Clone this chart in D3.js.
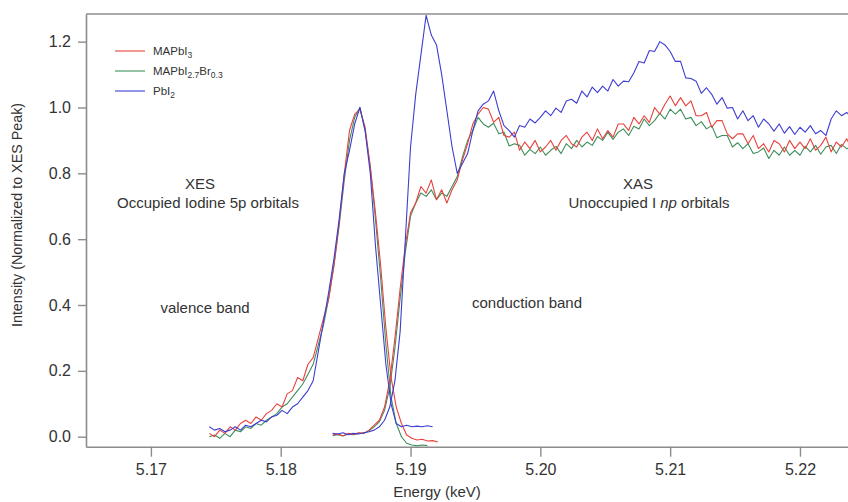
<!DOCTYPE html>
<html>
<head>
<meta charset="utf-8">
<script src="https://cdn.jsdelivr.net/npm/d3@7"></script>
<style>
  body { margin: 0; background: #fff; }
  svg { display: block; font-family: "Liberation Sans", Arial, sans-serif; }
</style>
</head>
<body>
<div id="chart"></div>
<script>
// XES (emission) energies, keV
const xesEnergy = [
  5.1745, 5.1749, 5.1753, 5.1757, 5.1761, 5.1765, 5.1769, 5.1773, 5.1777, 5.1781,
  5.1785, 5.1789, 5.1793, 5.1797, 5.1801, 5.1805, 5.1809, 5.1813, 5.1817, 5.1821,
  5.1825, 5.1829, 5.1833, 5.1837, 5.1841, 5.1845, 5.1849, 5.1853, 5.1857, 5.1861,
  5.1865, 5.1869, 5.1873, 5.1877, 5.1881, 5.1885, 5.1889, 5.1893, 5.1897, 5.1901,
  5.1905, 5.1909, 5.1913, 5.1917, 5.1921
];

// XAS (absorption) energies, keV
const xasEnergy = [
  5.1840, 5.1844, 5.1848, 5.1852, 5.1856, 5.1860, 5.1864, 5.1868, 5.1872, 5.1876,
  5.1880, 5.1884, 5.1888, 5.1892, 5.1896, 5.1900, 5.1904, 5.1908, 5.1912, 5.1916,
  5.1920, 5.1924, 5.1928, 5.1932, 5.1936, 5.1940, 5.1944, 5.1948, 5.1952, 5.1956,
  5.1960, 5.1964, 5.1968, 5.1972, 5.1976, 5.1980, 5.1984, 5.1988, 5.1992, 5.1996,
  5.2000, 5.2004, 5.2008, 5.2012, 5.2016, 5.2020, 5.2024, 5.2028, 5.2032, 5.2036,
  5.2040, 5.2044, 5.2048, 5.2052, 5.2056, 5.2060, 5.2064, 5.2068, 5.2072, 5.2076,
  5.2080, 5.2084, 5.2088, 5.2092, 5.2096, 5.2100, 5.2104, 5.2108, 5.2112, 5.2116,
  5.2120, 5.2124, 5.2128, 5.2132, 5.2136, 5.2140, 5.2144, 5.2148, 5.2152, 5.2156,
  5.2160, 5.2164, 5.2168, 5.2172, 5.2176, 5.2180, 5.2184, 5.2188, 5.2192, 5.2196,
  5.2200, 5.2204, 5.2208, 5.2212, 5.2216, 5.2220, 5.2224, 5.2228, 5.2232, 5.2236,
  5.2240
];

// XES intensities (normalized)
const xesMAPbI3 = [
  0.01, 0.0, 0.02, 0.01, 0.03, 0.02, 0.04, 0.05, 0.04, 0.06,
  0.05, 0.07, 0.08, 0.10, 0.09, 0.13, 0.14, 0.18, 0.17, 0.22,
  0.24, 0.30, 0.36, 0.42, 0.52, 0.65, 0.80, 0.93, 0.98, 0.995,
  0.94, 0.82, 0.68, 0.52, 0.33, 0.18, 0.09, 0.04, 0.005, -0.005,
  -0.01, -0.008, -0.013, -0.012, -0.016
];
const xesMAPbI27Br03 = [
  0.0, 0.005, -0.005, 0.01, 0.0, 0.02, 0.015, 0.03, 0.025, 0.04,
  0.035, 0.05, 0.06, 0.07, 0.09, 0.10, 0.12, 0.14, 0.16, 0.19,
  0.22, 0.28, 0.34, 0.42, 0.52, 0.64, 0.78, 0.90, 0.97, 1.0,
  0.93, 0.82, 0.66, 0.48, 0.28, 0.12, 0.04, 0.0, -0.02, -0.025,
  -0.028, -0.025, -0.027
];
const xesPbI2 = [
  0.03, 0.02, 0.025, 0.015, 0.02, 0.03, 0.02, 0.035, 0.03, 0.04,
  0.05, 0.045, 0.06, 0.065, 0.08, 0.07, 0.09, 0.10, 0.12, 0.14,
  0.17, 0.26, 0.35, 0.44, 0.54, 0.66, 0.80, 0.87, 0.95, 1.0,
  0.93, 0.80, 0.58, 0.40, 0.22, 0.10, 0.04, 0.03, 0.035, 0.03,
  0.032, 0.03, 0.033, 0.03
];

// XAS intensities (normalized to XES peak)
const xasMAPbI3 = [
  0.005, 0.008, 0.003, 0.01, 0.007, 0.012, 0.01, 0.02, 0.035, 0.05,
  0.09, 0.17, 0.30, 0.45, 0.58, 0.68, 0.71, 0.76, 0.74, 0.78,
  0.72, 0.75, 0.71, 0.75, 0.78, 0.84, 0.89, 0.95, 0.98, 1.0,
  0.995, 0.955, 0.97, 0.915, 0.91, 0.925, 0.87, 0.895, 0.875, 0.90,
  0.865, 0.88, 0.90, 0.87, 0.90, 0.915, 0.89, 0.88, 0.91, 0.925,
  0.90, 0.935, 0.905, 0.93, 0.91, 0.95, 0.95, 0.93, 0.97, 0.95,
  0.975, 0.955, 1.0, 0.98, 1.01, 1.035, 1.005, 1.03, 1.005, 1.02,
  0.975, 0.975, 0.985, 0.94, 0.96, 0.96, 0.92, 0.905, 0.92, 0.92,
  0.89, 0.915, 0.875, 0.89, 0.865, 0.90, 0.89, 0.865, 0.90, 0.875,
  0.895, 0.875, 0.905, 0.87, 0.885, 0.91, 0.865, 0.895, 0.88, 0.905,
  0.875
];
const xasMAPbI27Br03 = [
  0.003, 0.006, 0.002, 0.008, 0.006, 0.01, 0.01, 0.018, 0.03, 0.045,
  0.08, 0.15, 0.27, 0.42, 0.56, 0.67, 0.71, 0.74, 0.73, 0.75,
  0.72, 0.74, 0.73, 0.76, 0.79, 0.85, 0.90, 0.93, 0.97, 0.95,
  0.94, 0.952, 0.92, 0.925, 0.883, 0.89, 0.885, 0.855, 0.873, 0.86,
  0.88, 0.855, 0.87, 0.882, 0.86, 0.89, 0.875, 0.90, 0.88, 0.895,
  0.885, 0.912, 0.90, 0.925, 0.903, 0.925, 0.935, 0.915, 0.943, 0.935,
  0.965, 0.945, 0.96, 0.982, 0.965, 0.995, 0.98, 0.995, 0.965, 0.97,
  0.945, 0.957, 0.935, 0.945, 0.908, 0.915, 0.915, 0.88, 0.893, 0.875,
  0.89, 0.86, 0.865, 0.877, 0.845, 0.87, 0.855, 0.88, 0.855, 0.87,
  0.855, 0.882, 0.865, 0.885, 0.858, 0.88, 0.885, 0.86, 0.888, 0.875,
  0.88
];
const xasPbI2 = [
  0.01, 0.008, 0.012, 0.006, 0.01, 0.008, 0.012, 0.015, 0.02, 0.03,
  0.05, 0.09, 0.17, 0.32, 0.60, 0.88, 1.04, 1.16, 1.28, 1.22,
  1.19, 1.10, 0.99, 0.88, 0.80, 0.83, 0.86, 0.93, 0.99, 1.01,
  1.02, 1.05, 0.99, 0.945, 0.93, 0.91, 0.945, 0.94, 0.965, 0.953,
  0.97, 0.99, 0.975, 0.998, 0.985, 1.02, 1.025, 1.013, 1.05, 1.032,
  1.062, 1.045, 1.065, 1.05, 1.085, 1.065, 1.08, 1.078, 1.105, 1.14,
  1.135, 1.173, 1.17, 1.2, 1.19, 1.17, 1.14, 1.14, 1.09, 1.088,
  1.08, 1.043, 1.06, 1.04, 1.01, 1.03, 0.998, 1.0, 0.965, 0.99,
  0.96, 0.975, 0.94, 0.965, 0.95, 0.928, 0.95, 0.922, 0.942, 0.918,
  0.94, 0.925, 0.945, 0.92, 0.93, 0.915, 0.965, 0.99, 0.975, 0.985,
  0.97
];

const sampleNames = ["MAPbI3", "MAPbI2.7Br0.3", "PbI2"];
const sampleColors = ["#e8423d", "#3f8f5c", "#3d3dd2"];
const xTicks = [5.17, 5.18, 5.19, 5.20, 5.21, 5.22];
const yTicks = [0.0, 0.2, 0.4, 0.6, 0.8, 1.0, 1.2];

const width = 848, height = 502;
const margin = { top: 14, right: 0, bottom: 55.3, left: 86 };
const innerW = width - margin.left - margin.right;
const innerH = height - margin.top - margin.bottom;

const svg = d3.select("#chart").append("svg")
  .attr("width", width)
  .attr("height", height);

const g = svg.append("g")
  .attr("transform", `translate(${margin.left},${margin.top})`);

const x = d3.scaleLinear().domain([5.165, 5.2237]).range([0, innerW]);
const y = d3.scaleLinear().domain([-0.0304, 1.284]).range([innerH, 0]);

const axisColor = "#8c8c8c";
const textColor = "#333";

// clip for the traces
svg.append("defs").append("clipPath").attr("id", "clip")
  .append("rect").attr("width", innerW).attr("height", innerH);

// one XES + one XAS trace per sample
const xesSets = [xesMAPbI3, xesMAPbI27Br03, xesPbI2];
const xasSets = [xasMAPbI3, xasMAPbI27Br03, xasPbI2];

const line = d3.line()
  .x(d => x(d[0]))
  .y(d => y(d[1]));

const traces = g.append("g").attr("clip-path", "url(#clip)");

// green under red, blue on top
[1, 0, 2].forEach(k => {
  const xes = xesSets[k].map((v, i) => [xesEnergy[i], v]);
  const xas = xasSets[k].map((v, i) => [xasEnergy[i], v]);
  [xes, xas].forEach(pts => {
    traces.append("path")
      .datum(pts)
      .attr("d", line)
      .attr("fill", "none")
      .attr("stroke", sampleColors[k])
      .attr("stroke-width", 1.1)
      .attr("stroke-linejoin", "round");
  });
});

// axes
const xAxis = g.append("g")
  .attr("transform", `translate(0,${innerH})`)
  .call(d3.axisBottom(x).tickValues(xTicks).tickFormat(d3.format(".2f"))
    .tickSize(10).tickSizeOuter(0).tickPadding(7));

const yAxis = g.append("g")
  .call(d3.axisLeft(y).tickValues(yTicks).tickFormat(d3.format(".1f"))
    .tickSize(8).tickSizeOuter(0).tickPadding(7));

[xAxis, yAxis].forEach(a => {
  a.select(".domain").attr("stroke", axisColor).attr("stroke-width", 1.6);
  a.selectAll(".tick line").attr("stroke", axisColor).attr("stroke-width", 1.4);
  a.selectAll(".tick text")
    .attr("fill", textColor)
    .style("font-size", "16px")
    .style("font-family", "'Liberation Sans', Arial, sans-serif");
});

// top frame line
g.append("line")
  .attr("x1", 0).attr("x2", innerW)
  .attr("y1", 0).attr("y2", 0)
  .attr("stroke", axisColor)
  .attr("stroke-width", 1.6);

// axis titles
svg.append("text")
  .attr("x", 437).attr("y", 497)
  .attr("text-anchor", "middle")
  .attr("fill", textColor)
  .style("font-size", "15px")
  .text("Energy (keV)");

svg.append("text")
  .attr("transform", "translate(22,215) rotate(-90)")
  .attr("text-anchor", "middle")
  .attr("fill", textColor)
  .style("font-size", "14.3px")
  .text("Intensity (Normalized to XES Peak)");

// annotations
const notes = [
  { x: 200, y: 189, t: "XES" },
  { x: 208, y: 208, t: "Occupied Iodine 5p orbitals" },
  { x: 205, y: 313, t: "valence band" },
  { x: 638, y: 189, t: "XAS" },
  { x: 527, y: 308, t: "conduction band" }
];
notes.forEach(n => {
  svg.append("text")
    .attr("x", n.x).attr("y", n.y)
    .attr("text-anchor", "middle")
    .attr("fill", textColor)
    .style("font-size", "15px")
    .text(n.t);
});

const xasNote = svg.append("text")
  .attr("x", 649).attr("y", 208)
  .attr("text-anchor", "middle")
  .attr("fill", textColor)
  .style("font-size", "15px");
xasNote.append("tspan").text("Unoccupied I ");
xasNote.append("tspan").style("font-style", "italic").text("np");
xasNote.append("tspan").text(" orbitals");

// legend
const legendRows = [
  [["MAPbI", 0], ["3", 1]],
  [["MAPbI", 0], ["2.7", 1], ["Br", 0], ["0.3", 1]],
  [["PbI", 0], ["2", 1]]
];
const legend = svg.append("g").attr("transform", "translate(115,51)");
legendRows.forEach((parts, i) => {
  const row = legend.append("g").attr("transform", `translate(0,${i * 20})`);
  row.append("line")
    .attr("x1", 0).attr("x2", 30)
    .attr("stroke", sampleColors[i])
    .attr("stroke-width", 1.1);
  const t = row.append("text")
    .attr("x", 38).attr("y", 4)
    .attr("fill", textColor)
    .style("font-size", "11.5px");
  parts.forEach(([s, sub], j) => {
    t.append("tspan")
      .attr("dy", sub ? 3 : (j === 0 ? 0 : -3))
      .style("font-size", sub ? "8.5px" : "11.5px")
      .text(s);
  });
});
</script>
</body>
</html>
